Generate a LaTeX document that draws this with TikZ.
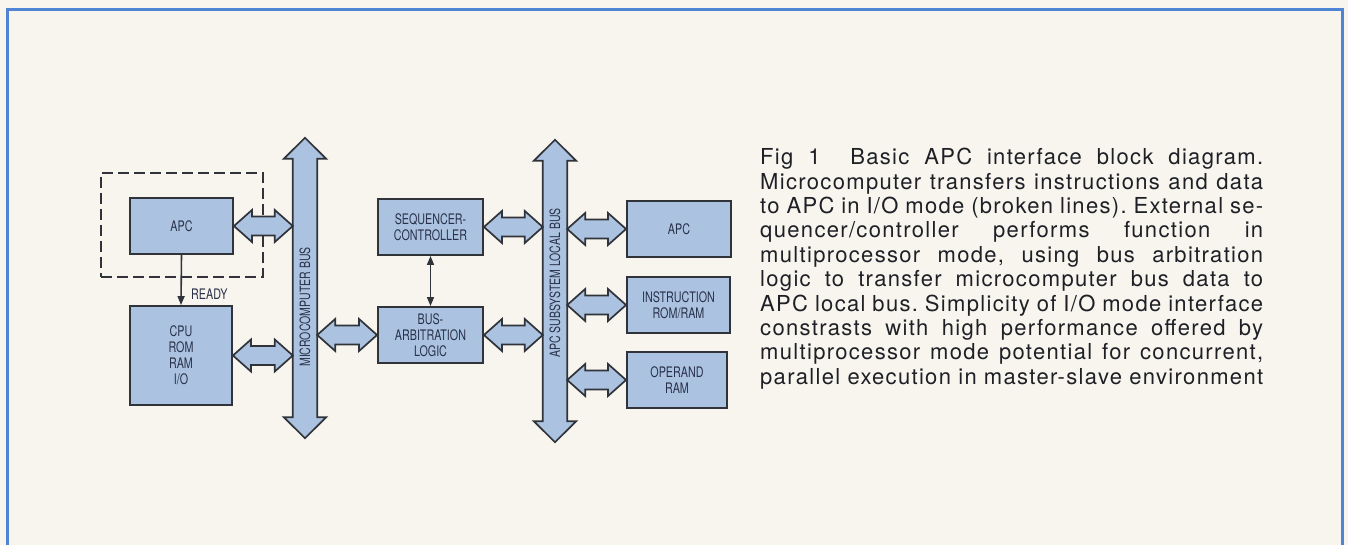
\documentclass[tikz,border=0pt]{standalone}
\usepackage{fontspec}
\setmainfont{TeX Gyre Heros}
\newfontfamily\condfont[FakeStretch=0.74]{TeX Gyre Heros}
\newfontfamily\capfont[LetterSpace=6]{TeX Gyre Heros}
\usetikzlibrary{calc,arrows.meta}
\definecolor{paper}{HTML}{F7F5EE}
\definecolor{boxblue}{HTML}{ABC3E0}
\definecolor{frameblue}{HTML}{4F84D4}
\definecolor{ink}{HTML}{30333A}
\definecolor{labelink}{HTML}{29314A}
\definecolor{capink}{HTML}{1E2026}
\tikzset{
  blk/.style={draw=ink, line width=1.7pt, fill=boxblue, line join=miter},
  unit/.style={draw=ink, line width=1.9pt, fill=boxblue, text=labelink, align=center,
    inner sep=0pt, font=\condfont\fontsize{14.5}{16}\selectfont},
  iobox/.style={draw=ink, line width=1.6pt, dash pattern=on 11pt off 5pt},
  busshaft/.style={minimum width=24pt, inner sep=0pt},
  buslabel/.style={text=labelink, rotate=90, inner sep=0pt, font=\condfont\fontsize{14.2}{16}\selectfont},
  lbl/.style={text=labelink, inner sep=0pt, font=\condfont\fontsize{14.5}{16}\selectfont},
  ready/.style={draw=ink, line width=1.6pt, -{Triangle[length=9pt,width=7pt]}},
  twoway/.style={draw=ink, line width=1.6pt, {Triangle[length=9pt,width=7pt]}-{Triangle[length=9pt,width=7pt]}},
  frame/.style={draw=frameblue, line width=3pt},
  caption/.style={text=capink, inner sep=0pt, text width=503pt, align=left,
    font=\capfont\fontsize{22}{24.4}\selectfont}
}
\newcommand{\harrow}[2]{%
  \draw[blk] let \p1=(#1), \p2=(#2) in
    (\x1,\y1) -- (\x1+18pt,\y1+16pt) -- (\x1+18pt,\y1+9.5pt) -- (\x2-18pt,\y1+9.5pt)
    -- (\x2-18pt,\y1+16pt) -- (\x2,\y1) -- (\x2-18pt,\y1-16pt) -- (\x2-18pt,\y1-9.5pt)
    -- (\x1+18pt,\y1-9.5pt) -- (\x1+18pt,\y1-16pt) -- cycle;}
\newcommand{\vbus}[1]{%
  \draw[blk] let \p1=(#1.north), \p2=(#1.south), \p3=(#1.west), \p4=(#1.east) in
    (\x1,\y1) -- (\x4+9pt,\y1-21pt) -- (\x4,\y1-21pt) -- (\x4,\y2+21pt) -- (\x4+9pt,\y2+21pt)
    -- (\x2,\y2) -- (\x3-9pt,\y2+21pt) -- (\x3,\y2+21pt) -- (\x3,\y1-21pt) -- (\x3-9pt,\y1-21pt) -- cycle;}
\newcommand{\capline}[1]{\leavevmode\hbox to 503pt{\frenchspacing\spaceskip=0.25em plus 1fil\relax #1}}
\begin{document}
\begin{tikzpicture}[x=1pt,y=-1pt]
\useasboundingbox (0,0) rectangle (1348,545);
\fill[paper] (0,0) rectangle (1348,545);
\draw[frame] (7,548) -- (7,10) -- (1342,10) -- (1342,548);

% buses
\node[busshaft, minimum height=300pt] (mbus) at (305,288) {};
\node[busshaft, minimum height=302pt] (lbus) at (555,291) {};
\vbus{mbus}
\vbus{lbus}
\node[buslabel] (mbuslabel) at (305,307) {MICROCOMPUTER BUS};
\node[buslabel] (lbuslabel) at (555,283) {APC SUBSYSTEM LOCAL BUS};

% units
\node[iobox, minimum width=162pt, minimum height=104pt] (iomode) at (182,225) {};
\node[unit, minimum width=103pt, minimum height=56pt] (apcA) at (181.5,226) {APC};
\node[unit, minimum width=102pt, minimum height=99pt] (cpu) at (181,355.5) {CPU\\ROM\\RAM\\I/O};
\node[unit, minimum width=105pt, minimum height=56pt] (seq) at (430.5,227) {SEQUENCER-\\CONTROLLER};
\node[unit, minimum width=105pt, minimum height=56pt] (arb) at (430.5,335) {BUS-\\ARBITRATION\\LOGIC};
\node[unit, minimum width=104pt, minimum height=56pt] (apcB) at (679,229) {APC};
\node[unit, minimum width=103pt, minimum height=56pt] (instr) at (678.5,305) {INSTRUCTION\\ROM/RAM};
\node[unit, minimum width=100pt, minimum height=56pt] (oper) at (677,380) {OPERAND\\RAM};

% block arrows
\harrow{apcA.east}{apcA.east -| mbus.west}
\harrow{cpu.east}{cpu.east -| mbus.west}
\harrow{mbus.east |- arb.west}{arb.west}
\harrow{seq.east}{seq.east -| lbus.west}
\harrow{arb.east}{arb.east -| lbus.west}
\harrow{lbus.east |- apcB.west}{apcB.west}
\harrow{lbus.east |- instr.west}{instr.west}
\harrow{lbus.east |- oper.west}{oper.west}

% thin connectors
\draw[ready] (apcA.south) -- (cpu.north);
\node[lbl, anchor=west] (readylabel) at (191,294) {READY};
\draw[twoway] (seq.south) -- (arb.north);

% caption
\node[caption, anchor=north west] (cap) at (760,148) {%
\capline{Fig 1\ \ Basic APC interface block diagram.}\\
\capline{Microcomputer transfers instructions and data}\\
\capline{to APC in I/O mode (broken lines). External se-}\\
\capline{quencer/controller performs function in}\\
\capline{multiprocessor mode, using bus arbitration}\\
\capline{logic to transfer microcomputer bus data to}\\
\capline{APC local bus. Simplicity of I/O mode interface}\\
\capline{constrasts with high performance offered by}\\
\capline{multiprocessor mode potential for concurrent,}\\
\capline{parallel execution in master-slave environment}};
\end{tikzpicture}
\end{document}
